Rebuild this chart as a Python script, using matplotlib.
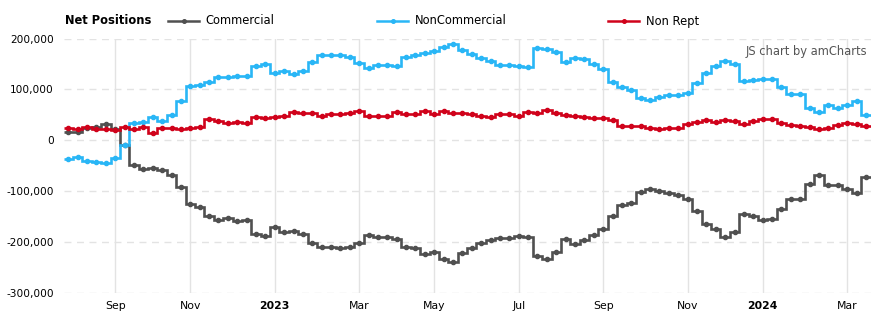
import numpy as np
import pandas as pd
import matplotlib
matplotlib.use("Agg")
import matplotlib.pyplot as plt
from matplotlib.lines import Line2D

# weekly report dates (Tuesdays)
dates = pd.date_range("2022-08-02", periods=86, freq="7D")

# net positions, in thousands of contracts
commercial = [16, 16, 24, 26, 31, 22, -10,
              -49, -56, -54, -58, -68, -92, -126, -132, -150, -157, -153, -159, -157, -184, -188, -172, -181, -178,
              -184, -203, -211, -211, -212, -210, -202, -186, -191, -191, -195, -211, -212, -225, -220, -234, -239,
              -222, -212, -203, -196, -193, -193, -189, -191, -228, -234, -220,
              -194, -204, -197, -186, -175, -149, -128, -124, -103, -97, -100, -105, -108, -115, -139, -166, -175,
              -190, -181, -145, -149, -158, -155, -136, -116, -116, -86, -69, -88, -88, -96, -104, -72]
noncommercial = [-38, -33, -41, -43, -46, -35, -10, 34, 36, 46, 38, 49, 76, 107, 109, 115, 125, 125, 127, 127,
                 145, 149, 132, 137, 130,
                 137, 153, 168, 168, 168, 164, 151, 141, 148, 148, 145, 164, 168, 171, 176, 183, 189, 178, 170,
                 161, 155, 147, 147, 145, 143, 181, 179, 174, 153, 162,
                 160, 149, 139, 115, 104, 99, 82, 78, 84, 88, 88, 92, 112, 132, 145, 155, 149, 117, 119, 120,
                 120, 105, 90, 90, 64, 55, 70, 64, 69, 77, 49]
nonrept = [24, 22, 25, 22, 21, 20, 25, 22, 26, 14, 24, 24, 21, 24, 26, 41, 37, 34, 36, 34, 46, 43, 46, 48, 55,
           54, 54, 48, 51, 51, 53, 57, 48, 48, 48, 55, 51, 51, 57, 51, 57, 53, 53, 51, 48, 46, 51, 51, 48, 56,
           53, 59, 53,
           50, 47, 45, 43, 43, 39, 28, 28, 28, 24, 21, 24, 24, 31, 35, 39, 35, 39, 37, 32, 37, 41, 41, 34, 30,
           28, 26, 21, 24, 29, 33, 32, 28]

series = [("Commercial", commercial, "#505050"),
          ("NonCommercial", noncommercial, "#29b6f6"),
          ("Non Rept", nonrept, "#d0021b")]

yticks = [200000, 100000, 0, -100000, -200000, -300000]

fig = plt.figure(figsize=(8.84, 3.26), dpi=100)
ax = fig.add_axes([63.6 / 884, 1 - 292.5 / 326, 807 / 884, 254 / 326])

x = np.arange(len(dates))
edges = np.arange(len(dates) + 1) - 0.5

for name, vals, col in series:
    v = np.array(vals) * 1000
    ax.stairs(v, edges, baseline=None, color=col, lw=1.9, zorder=3)
    ax.plot(x, v, "o", color=col, ms=3.0, zorder=4)

ax.set_xlim(-0.5, len(dates) - 0.5)
ax.set_ylim(-300000, 200000)

# y grid
ax.set_yticks(yticks)
ax.set_yticklabels([f"{t:,}" for t in yticks], fontsize=7.6)
for t in yticks:
    ax.axhline(t, color="#e3e3e3", lw=1, ls=(0, (5, 4)), zorder=1)

# month ticks at first report of odd months
tick_idx = []
tick_lab = []
prev = None
for i, d in enumerate(dates):
    if d.month != prev and d.month in (1, 3, 5, 7, 9, 11) and i > 0:
        tick_idx.append(i)
        tick_lab.append(str(d.year) if d.month == 1 else d.strftime("%b"))
    prev = d.month
ax.set_xticks(tick_idx)
ax.set_xticklabels(tick_lab, fontsize=7.8)
for lbl in ax.get_xticklabels():
    if lbl.get_text().isdigit():
        lbl.set_fontweight("bold")
for i in tick_idx:
    ax.axvline(i, color="#e3e3e3", lw=1, zorder=1)

ax.tick_params(axis="both", length=0)
ax.tick_params(axis="y", pad=7)
ax.tick_params(axis="x", pad=6)
for s in ax.spines.values():
    s.set_visible(False)

ax.text(867 / 884, 1 - 52 / 326, "JS chart by amCharts", transform=fig.transFigure,
        ha="right", va="center", fontsize=8.3, color="#555555")

# legend row
ly = 1 - 21 / 326
fig.text(65 / 884, ly, "Net Positions", fontsize=8.3, fontweight="bold", va="center")
leg_pos = [(168, 205), (377, 415), (608, 646)]
for (name, vals, col), (lx, tx) in zip(series, leg_pos):
    fig.add_artist(Line2D([lx / 884, (lx + 31) / 884], [ly, ly], color=col, lw=1.8))
    fig.add_artist(Line2D([(lx + 15.5) / 884], [ly], marker="o", color=col, ms=2.6))
    fig.text(tx / 884, ly, name, fontsize=8.3, va="center")

fig.savefig("out.png", dpi=100)
